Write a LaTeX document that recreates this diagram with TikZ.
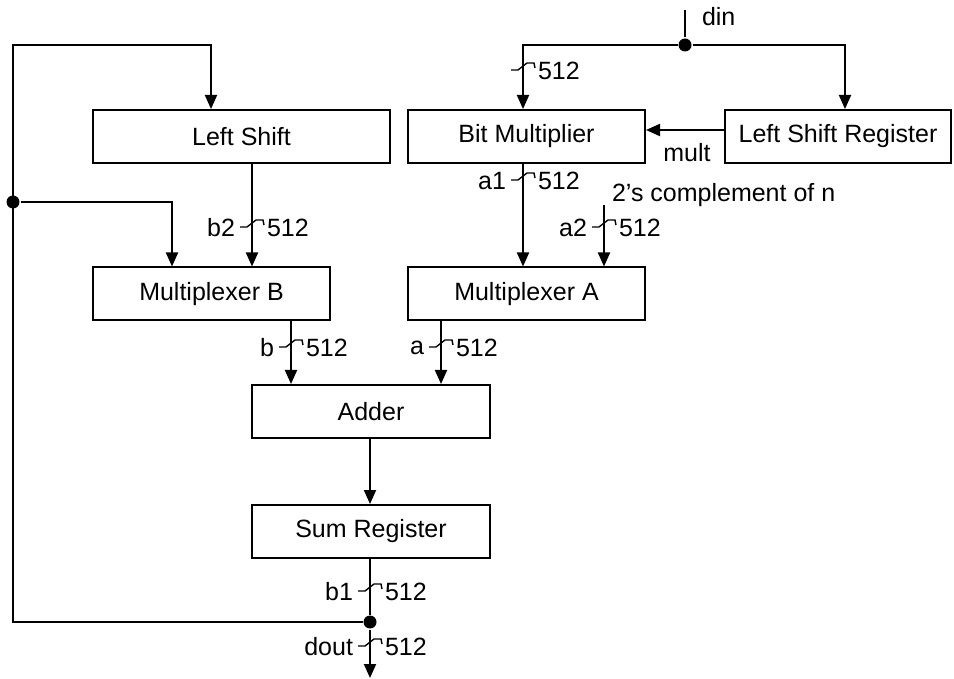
\documentclass[tikz,border=0pt]{standalone}
\usepackage{fontspec}
\setmainfont{Liberation Sans}
\usetikzlibrary{arrows.meta,calc}
\tikzset{
  blk/.style={draw,line width=1pt,minimum height=26.5pt,inner sep=0pt,font=\fontsize{12.5}{15}\selectfont},
  arr/.style={-{Triangle[length=7pt,width=6pt]}},
  dot/.style={circle,fill,inner sep=0pt,minimum size=6.5pt},
  lbl/.style={font=\fontsize{12.5}{15}\selectfont,inner sep=1pt},
  bus/.pic={\draw[line width=0.7pt] (-12,4) -- (-5,4) -- (4,-3) -- (11,-3) -- (12,2);}
}
% bus width mark: #1 point on the line, #2 signal name, #3 width
\newcommand\busmark[3]{%
  \pic at (#1) {bus};
  \node[lbl,anchor=east] at ($(#1)+(-14,5)$) {#2};
  \node[lbl,anchor=west] at ($(#1)+(12,5)$) {#3};
}
\begin{document}
\begin{tikzpicture}[x=0.5pt,y=-0.5pt,line width=1pt]
\useasboundingbox (0,0) rectangle (954,679);
% blocks
\node[blk,minimum width=148.5pt] (lshift) at (241.5,136.5) {Left Shift};
\node[blk,minimum width=118.5pt] (bitmul) at (526.5,136.5) {Bit Multiplier};
\node[blk,minimum width=113pt] (lsreg) at (838,136.5) {Left Shift Register};
\node[blk,minimum width=118.5pt] (muxb) at (211.5,294) {Multiplexer B};
\node[blk,minimum width=118.5pt] (muxa) at (526.5,294) {Multiplexer A};
\node[blk,minimum width=119pt] (adder) at (371,411.5) {Adder};
\node[blk,minimum width=119pt] (sumreg) at (371,531.5) {Sum Register};
% input din
\coordinate (din) at (685,10);
\node[dot] (dsplit) at (685,45) {};
\draw (din) -- (dsplit);
\node[lbl,anchor=west] at (699,17) {din};
\draw[arr] (dsplit) -| (845,0 |- lsreg.north);
\draw[arr] (dsplit) -| (523,0 |- bitmul.north);
\busmark{523,66}{}{512}
% mult
\draw[arr] (lsreg.west |- 0,130) -- (bitmul.east |- 0,130);
\node[lbl] at (687,153) {mult};
% multiplexer A inputs
\draw[arr] (523,0 |- bitmul.south) -- (523,0 |- muxa.north);
\busmark{523,176}{a1}{512}
\coordinate (twos) at (604,205);
\draw[arr] (twos) -- (twos |- muxa.north);
\node[lbl,anchor=west] at (609,195) {2's complement of n};
\busmark{604,223}{a2}{512}
% multiplexer B inputs
\draw[arr] (252,0 |- lshift.south) -- (252,0 |- muxb.north);
\busmark{252,223}{b2}{512}
\node[dot] (bsplit) at (13,202) {};
\draw[arr] (bsplit) -| (172,0 |- muxb.north);
% adder
\draw[arr] (291,0 |- muxb.south) -- (291,0 |- adder.north);
\busmark{291,343}{b}{512}
\draw[arr] (441,0 |- muxa.south) -- (441,0 |- adder.north);
\busmark{441,343}{a}{512}
\draw[arr] (370,0 |- adder.south) -- (370,0 |- sumreg.north);
% output and feedback
\node[dot] (fsplit) at (370,622) {};
\coordinate (dout) at (370,678);
\draw (370,0 |- sumreg.south) -- (fsplit);
\busmark{370,587}{b1}{512}
\draw[arr] (fsplit) -- (dout);
\busmark{370,642}{dout}{512}
\draw[arr] (fsplit) -| (13,45) -| (211,0 |- lshift.north);
\end{tikzpicture}
\end{document}
